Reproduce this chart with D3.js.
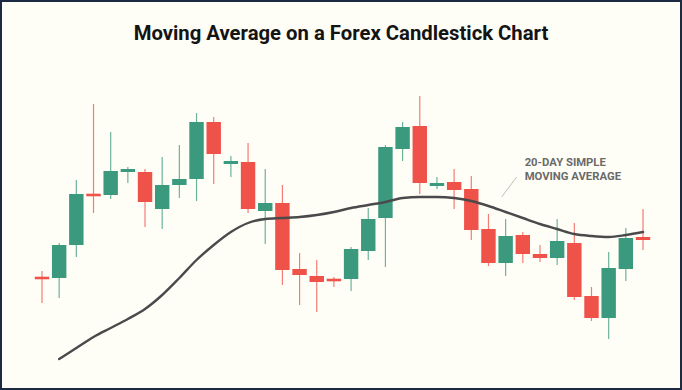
<!DOCTYPE html>
<html lang="en">
<head>
    <meta charset="UTF-8">
    <title>Moving Average on a Forex Candlestick Chart</title>
    <script src="https://d3js.org/d3.v7.min.js"></script>
    <style>
        html, body {
            margin: 0;
            padding: 0;
            background-color: #fffef6;
        }
        svg {
            display: block;
        }
        .title {
            font-family: Roboto, "Noto Sans", sans-serif;
            font-weight: 700;
            font-size: 20.3px;
            fill: #141414;
        }
        .note {
            font-family: Roboto, "Noto Sans", sans-serif;
            font-weight: 700;
            font-size: 11.3px;
            fill: #6a6a6a;
        }
    </style>
</head>
<body>
    <script>
        // OHLC values, one per day
        const opens  = [1.0913, 1.0912, 1.0945, 1.0996, 1.0995, 1.1018, 1.1018, 1.0981, 1.1005, 1.1011, 1.1068, 1.1026,
                        1.1028, 1.0979, 1.0987, 1.0921, 1.0914, 1.0911, 1.0911, 1.0939, 1.0972, 1.1041, 1.1064, 1.1004,
                        1.1008, 1.1001, 1.0961, 1.0927, 1.0955, 1.0936, 1.0932, 1.0947, 1.0894, 1.0872, 1.0921, 1.0953];
        const highs  = [1.0919, 1.0947, 1.1010, 1.1086, 1.1058, 1.1023, 1.1021, 1.1033, 1.1045, 1.1077, 1.1073, 1.1034,
                        1.1047, 1.1021, 1.1005, 1.0937, 1.0930, 1.0913, 1.0943, 1.0982, 1.1045, 1.1068, 1.1094, 1.1013,
                        1.1021, 1.1014, 1.0976, 1.0971, 1.0958, 1.0945, 1.0971, 1.0967, 1.0903, 1.0938, 1.0962, 1.0981];
        const lows   = [1.0887, 1.0892, 1.0933, 1.0977, 1.0991, 1.1007, 1.0963, 1.0961, 1.0992, 1.0989, 1.1006, 1.1013,
                        1.0977, 1.0946, 1.0905, 1.0885, 1.0878, 1.0903, 1.0899, 1.0930, 1.0923, 1.1029, 1.0996, 1.1001,
                        1.0981, 1.0950, 1.0924, 1.0914, 1.0927, 1.0928, 1.0925, 1.0890, 1.0869, 1.0851, 1.0909, 1.0940];
        const closes = [1.0911, 1.0945, 1.0996, 1.0994, 1.1019, 1.1021, 1.0988, 1.1005, 1.1011, 1.1068, 1.1036, 1.1029,
                        1.0981, 1.0987, 1.0920, 1.0915, 1.0908, 1.0909, 1.0941, 1.0971, 1.1043, 1.1063, 1.1007, 1.1007,
                        1.1000, 1.0960, 1.0927, 1.0954, 1.0936, 1.0932, 1.0949, 1.0893, 1.0872, 1.0922, 1.0952, 1.0950];

        // 20-day simple moving average, starting on day 2
        const maStart = 1;
        const maValues = [1.0831, 1.0842, 1.0853, 1.0862, 1.0871, 1.0881, 1.0895, 1.0912, 1.0930, 1.0945, 1.0958, 1.0967,
                          1.0971, 1.0972, 1.0973, 1.0975, 1.0978, 1.0982, 1.0985, 1.0988, 1.0992, 1.0993, 1.0993, 1.0992,
                          1.0989, 1.0984, 1.0978, 1.0972, 1.0966, 1.0961, 1.0956, 1.0954, 1.0953, 1.0955, 1.0958];

        const titleText = "Moving Average on a Forex Candlestick Chart";
        const noteLines = ["20-DAY SIMPLE", "MOVING AVERAGE"];

        const width = 682;
        const height = 390;
        const up = "#3b9a7e";
        const down = "#ef5249";

        const days = d3.range(opens.length);
        const candles = days.map(i => ({
            i: i, open: opens[i], high: highs[i], low: lows[i], close: closes[i]
        }));

        const svg = d3.select("body").append("svg")
            .attr("width", width)
            .attr("height", height);

        // frame
        svg.append("rect")
            .attr("x", 1)
            .attr("y", 1)
            .attr("width", width - 2)
            .attr("height", height - 2)
            .attr("fill", "#fffef6")
            .attr("stroke", "#1d2b42")
            .attr("stroke-width", 2);

        const x = d3.scaleBand()
            .domain(days)
            .range([33.4, 651.6])
            .paddingInner(0.16)
            .paddingOuter(0.08);

        const y = d3.scaleLinear()
            .domain([1.0800, 1.1190])
            .range([390, 0]);

        const cx = i => x(i) + x.bandwidth() / 2;

        svg.append("text")
            .attr("class", "title")
            .attr("x", width / 2)
            .attr("y", 40)
            .attr("text-anchor", "middle")
            .text(titleText);

        // candles
        const g = svg.append("g").attr("class", "candles");

        g.selectAll(".wick")
            .data(candles)
            .enter().append("line")
            .attr("class", "wick")
            .attr("x1", d => cx(d.i))
            .attr("x2", d => cx(d.i))
            .attr("y1", d => y(d.high))
            .attr("y2", d => y(d.low))
            .attr("stroke", d => d.close >= d.open ? up : down)
            .attr("stroke-opacity", 0.75)
            .attr("stroke-width", 1.2);

        g.selectAll(".body")
            .data(candles)
            .enter().append("rect")
            .attr("class", "body")
            .attr("x", d => x(d.i))
            .attr("width", x.bandwidth())
            .attr("y", d => {
                const top = y(Math.max(d.open, d.close));
                const h = Math.abs(y(d.open) - y(d.close));
                return h < 2.6 ? (top + h / 2 - 1.3) : top;
            })
            .attr("height", d => Math.max(2.6, Math.abs(y(d.open) - y(d.close))))
            .attr("fill", d => d.close >= d.open ? up : down);

        // moving average
        const line = d3.line()
            .x((d, k) => cx(maStart + k))
            .y(d => y(d))
            .curve(d3.curveMonotoneX);

        svg.append("path")
            .datum(maValues)
            .attr("d", line)
            .attr("fill", "none")
            .attr("stroke", "#4a4a4c")
            .attr("stroke-width", 2.4)
            .attr("stroke-linecap", "round");

        // annotation
        const noteIdx = 27;
        const nx = cx(noteIdx);
        svg.append("line")
            .attr("x1", nx - 4)
            .attr("y1", y(maValues[noteIdx - maStart]) - 15)
            .attr("x2", nx + 11)
            .attr("y2", y(maValues[noteIdx - maStart]) - 35)
            .attr("stroke", "#b8b8b8")
            .attr("stroke-width", 0.9);

        svg.append("g")
            .selectAll("text")
            .data(noteLines)
            .enter().append("text")
            .attr("class", "note")
            .attr("x", nx + 19)
            .attr("y", (d, k) => 165.5 + k * 14)
            .text(d => d);
    </script>
</body>
</html>
